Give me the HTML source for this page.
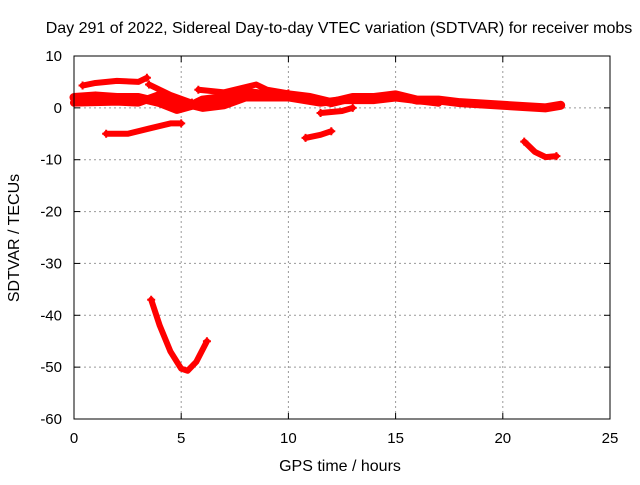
<!DOCTYPE html>
<html><head><meta charset="utf-8"><style>
body{margin:0;background:#fff}
svg text{font-family:"Liberation Sans",sans-serif;font-size:15px;fill:#000}
</style></head><body>
<svg width="640" height="480">
<rect width="640" height="480" fill="#fff"/>
<text x="339" y="33" text-anchor="middle" style="font-size:16px">Day 291 of 2022, Sidereal Day-to-day VTEC variation (SDTVAR) for receiver mobs</text>
<g id="grid"></g>
<g id="ticks"></g>
<g id="series"></g>
<rect x="74" y="56" width="536" height="363" fill="none" stroke="#000" stroke-width="1"/>
<text x="340" y="471" text-anchor="middle" style="font-size:16px">GPS time / hours</text>
<text transform="translate(19,238) rotate(-90)" text-anchor="middle" style="font-size:16px">SDTVAR / TECUs</text>
</svg>
<script>
const xTicks=[0,5,10,15,20,25];
const yTicks=[10,0,-10,-20,-30,-40,-50,-60];
const bandTop=[[0.4,4.3],[1,4.8],[2,5.2],[3,5],[3.4,5.8]];
const bandMain=[[0,2],[1,2.3],[2,2],[3,2],[4,1],[4.8,-0.3],[5.5,0.5],[6,1.5],[7,2],[8,3],[9,2.5],[10,2.5],[11,2],[12,1],[13,2],[14,2],[15,2.5],[16,1.5],[17,1.5],[18,1],[20,0.5],[22,0],[22.7,0.5]];
const bandLow=[[0,1],[2,1.2],[3,1],[4,2.5],[5,1],[6,0],[7,0.5],[8,2],[10,2],[11.5,1],[12.5,1.5],[14,1.5],[15,2],[17,1]];
const loopA=[[3.5,4.5],[4.5,2.5],[5.5,1]];
const loopB=[[5.8,3.5],[7,3],[8.5,4.5],[9,3.5],[10,2.8]];
const seg0=[[11.5,-1],[12.5,-0.6],[13,0]];
const seg1=[[1.5,-5],[2.5,-5],[3.5,-4],[4.5,-3],[5,-3]];
const seg2=[[10.8,-5.8],[11.5,-5.2],[12,-4.5]];
const seg3=[[21,-6.5],[21.5,-8.5],[22,-9.5],[22.5,-9.3]];
const dip=[[3.6,-37],[4,-42],[4.5,-47],[5,-50.3],[5.3,-50.7],[5.7,-49],[6.2,-45]];
const allSeries=[bandTop,bandMain,bandLow,loopA,loopB,seg0,seg1,seg2,seg3,dip];
const widths=[6,9,8,6,6,6,6,6,6,6];
const sx=h=>74+h*536/25, sy=v=>56+(10-v)*363/70;
const NS="http://www.w3.org/2000/svg";
function mk(t,a,p){const e=document.createElementNS(NS,t);for(const k in a)e.setAttribute(k,a[k]);p.appendChild(e);return e;}
const grid=document.getElementById('grid'),ticks=document.getElementById('ticks'),ser=document.getElementById('series');
xTicks.forEach(t=>{const x=sx(t);
 if(t>0&&t<25){const l=mk('line',{x1:x,x2:x,y1:56,y2:419,stroke:'#999','stroke-dasharray':'2,3'},grid);
 
 }
 mk('line',{x1:x,x2:x,y1:419,y2:413,stroke:'#000'},ticks);mk('line',{x1:x,x2:x,y1:56,y2:62,stroke:'#000'},ticks);
 const tx=mk('text',{x:x,y:443,'text-anchor':'middle'},ticks);tx.textContent=t;
 
 });
yTicks.forEach(t=>{const y=sy(t);
 if(t<10&&t>-60){const l=mk('line',{x1:74,x2:610,y1:y,y2:y,stroke:'#999','stroke-dasharray':'2,3'},grid);
 
 }
 mk('line',{x1:74,x2:80,y1:y,y2:y,stroke:'#000'},ticks);mk('line',{x1:610,x2:604,y1:y,y2:y,stroke:'#000'},ticks);
 const tx=mk('text',{x:62,y:y+5,'text-anchor':'end'},ticks);tx.textContent=t;
 
 });
allSeries.forEach((s,i)=>{
 const p=mk('polyline',{points:s.map(d=>sx(d[0])+','+sy(d[1])).join(' '),fill:'none',stroke:'#f00','stroke-width':widths[i],'stroke-linejoin':'round','stroke-linecap':'round'},ser);
 
 
 [s[0],s[s.length-1]].forEach(d=>{const x=sx(d[0]),y=sy(d[1]);
  const m=mk('path',{d:`M${x-4},${y}h8M${x},${y-4}v8`,stroke:'#f00','stroke-width':2},ser);
  
  });
});
</script>
</body></html>
